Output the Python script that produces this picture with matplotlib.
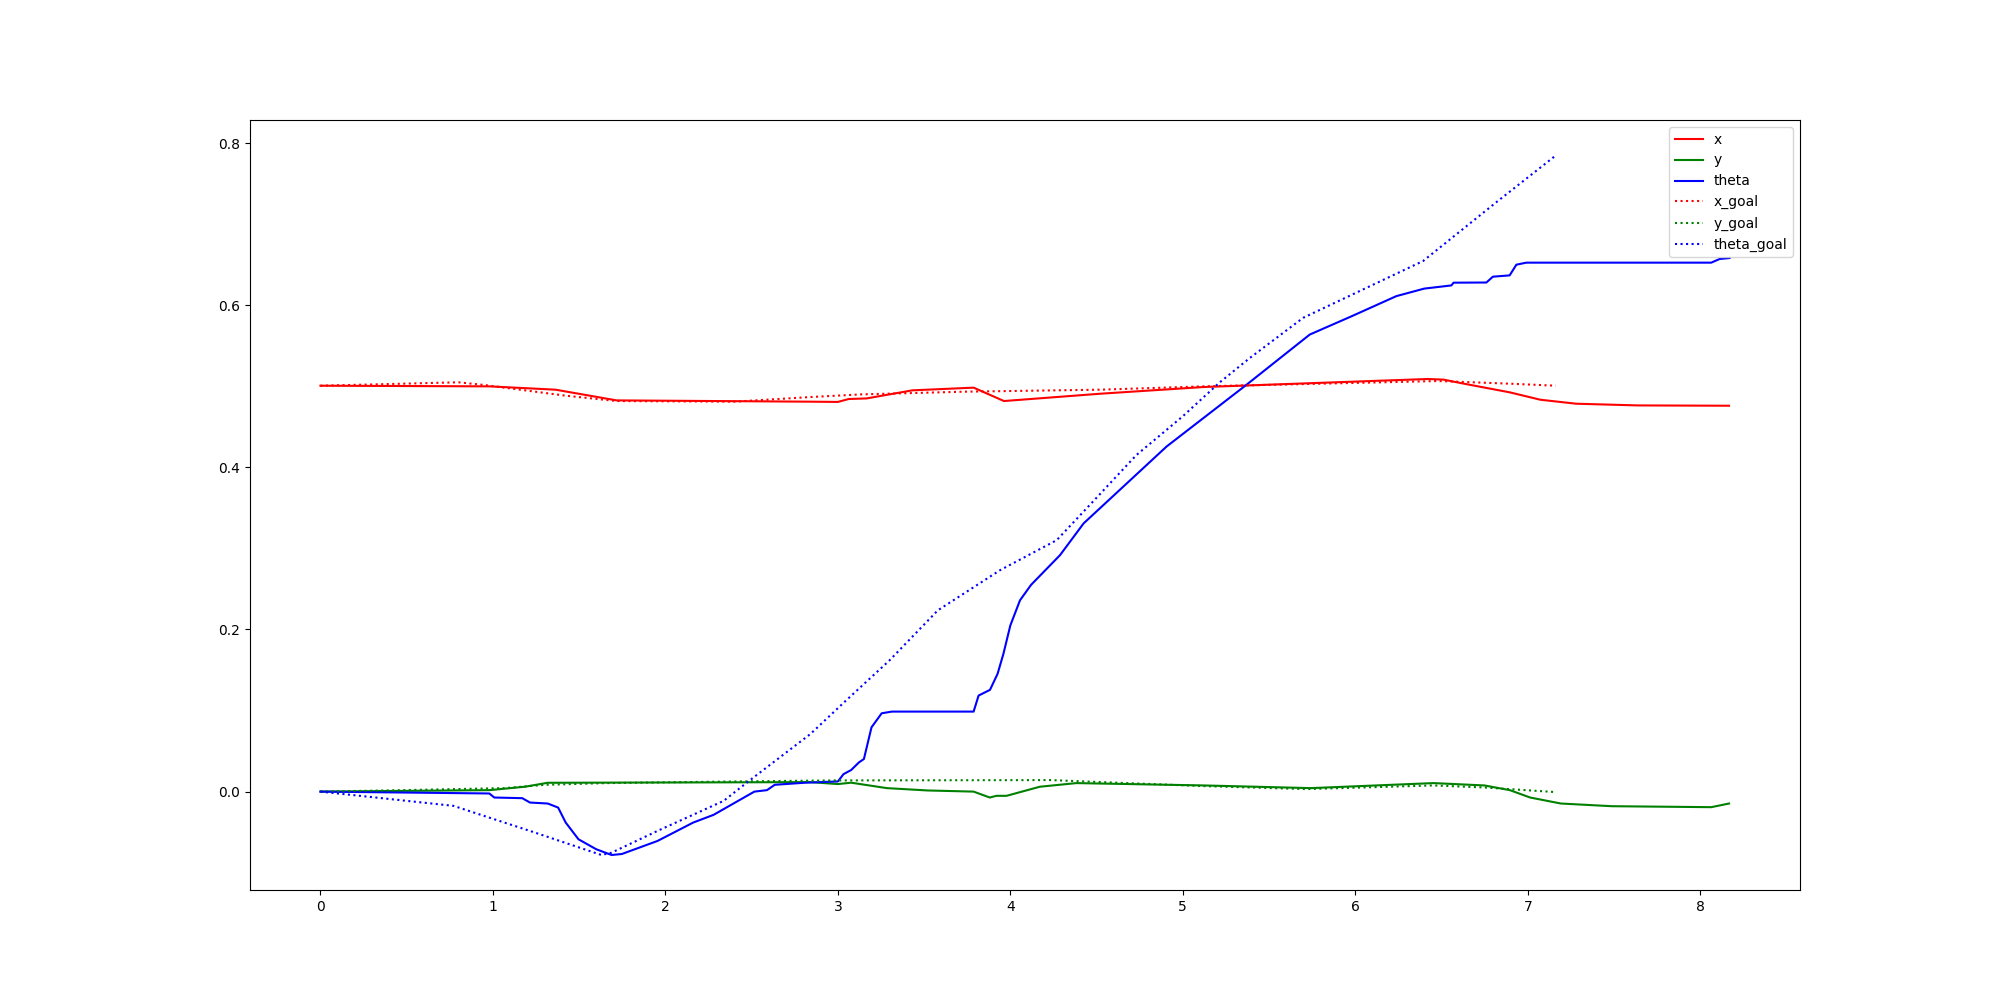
import matplotlib
matplotlib.use("Agg")
import matplotlib.pyplot as plt

# values (time, value)
t_x = [0, 0.98, 1.363, 1.717, 2.84, 3.0, 3.063, 3.166, 3.432, 3.787, 3.963,
       4.52, 5.122, 6.423, 6.512, 6.63, 6.896, 7.073, 7.28, 7.636, 8.167]
x = [0.5007, 0.4999, 0.4958, 0.4826, 0.481, 0.4807, 0.4843, 0.485, 0.495, 0.4983, 0.4818,
     0.4908, 0.4991, 0.509, 0.5082, 0.5032, 0.4925, 0.4834, 0.4785, 0.4764, 0.476]

t_y = [0, 0.979, 1.185, 1.318, 1.54, 2.84, 3.0, 3.077, 3.284, 3.521, 3.787, 3.881,
       3.919, 3.978, 4.171, 4.383, 5.122, 5.743, 6.453, 6.749, 6.896, 7.014, 7.192,
       7.487, 8.064, 8.167]
y = [0.0, 0.0018, 0.006, 0.0109, 0.011, 0.0117, 0.0093, 0.011, 0.0043, 0.0014, 0.0, -0.0073,
     -0.0052, -0.0052, 0.006, 0.0105, 0.0076, 0.0043, 0.0105, 0.0076, 0.0018, -0.0073, -0.0147,
     -0.018, -0.0192, -0.0147]

t_theta = [0, 0.979, 1.008, 1.17, 1.215, 1.318, 1.378, 1.422, 1.496, 1.599, 1.688, 1.747,
           1.954, 2.161, 2.279, 2.516, 2.589, 2.634, 2.811, 3.0, 3.033, 3.077, 3.122, 3.151,
           3.195, 3.254, 3.313, 3.787, 3.816, 3.882, 3.926, 3.96, 4.0, 4.056, 4.12, 4.288,
           4.425, 4.906, 5.37, 5.736, 5.98, 6.238, 6.4, 6.557, 6.57, 6.76, 6.798, 6.895,
           6.934, 6.992, 8.064, 8.112, 8.17]
theta = [0.0, -0.0023, -0.0073, -0.0081, -0.0135, -0.0147, -0.0197, -0.0382, -0.0588, -0.0711,
         -0.0782, -0.077, -0.0609, -0.0382, -0.0287, 0.0, 0.0018, 0.0084, 0.011, 0.0125, 0.0216,
         0.0266, 0.036, 0.0402, 0.0793, 0.0966, 0.0987, 0.0987, 0.1185, 0.1255, 0.1453, 0.1701,
         0.205, 0.236, 0.255, 0.2917, 0.3309, 0.4257, 0.502, 0.5638, 0.5865, 0.6112, 0.6205,
         0.6244, 0.6278, 0.628, 0.6352, 0.6368, 0.65, 0.6525, 0.6525, 0.657, 0.6582]

t_x_goal = [0, 0.801, 0.949, 1.422, 1.717, 2.397, 2.84, 3.136, 3.728, 4.52, 5.122, 6.48,
            6.896, 7.162]
x_goal = [0.5007, 0.5049, 0.5016, 0.4884, 0.4818, 0.481, 0.4867, 0.49, 0.4933, 0.4958, 0.4999,
          0.5065, 0.5032, 0.5007]

t_y_goal = [0, 0.476, 1.067, 1.304, 1.658, 2.397, 2.988, 4.235, 4.531, 5.122, 5.713, 6.453,
            6.749, 7.162]
y_goal = [0.0, 0.0018, 0.0043, 0.0084, 0.0105, 0.0125, 0.0138, 0.0142, 0.0117, 0.0068, 0.0031,
          0.0076, 0.0051, -0.0006]

t_theta_goal = [0, 0.772, 0.949, 1.215, 1.629, 1.688, 1.954, 2.338, 2.486, 2.841, 3.047, 3.299,
                3.58, 3.94, 4.269, 4.48, 4.73, 5.0, 5.215, 5.389, 5.698, 6.393, 6.828, 7.166]
theta_goal = [0.0, -0.0176, -0.03, -0.0485, -0.0782, -0.0753, -0.0485, -0.0114, 0.0134, 0.0711,
              0.1123, 0.1618, 0.2237, 0.2731, 0.3102, 0.358, 0.415, 0.463, 0.505, 0.535,
              0.5845, 0.6545, 0.7288, 0.7853]

fig, ax = plt.subplots(figsize=(20, 10), dpi=100)

ax.plot(t_x, x, "r", label="x")
ax.plot(t_y, y, "g", label="y")
ax.plot(t_theta, theta, "b", label="theta")
ax.plot(t_x_goal, x_goal, "r:", label="x_goal")
ax.plot(t_y_goal, y_goal, "g:", label="y_goal")
ax.plot(t_theta_goal, theta_goal, "b:", label="theta_goal")

ax.legend(loc="upper right")

plt.savefig("out.png")
